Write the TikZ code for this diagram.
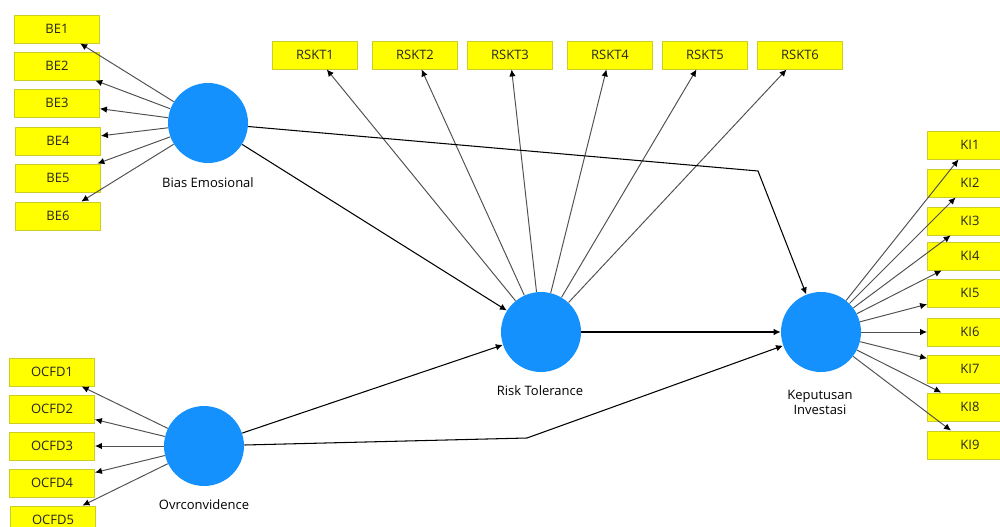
\documentclass[tikz,border=0pt]{standalone}
\usepackage{fontspec}
\setmainfont{Open Sans}
\usetikzlibrary{arrows.meta}
\definecolor{latblue}{RGB}{20,145,252}
\definecolor{indyellow}{RGB}{255,255,0}
\definecolor{indborder}{RGB}{205,205,40}
\definecolor{loadgray}{RGB}{80,80,80}

\begin{document}
\begin{tikzpicture}[x=0.02cm,y=-0.02cm]
\tikzstyle{every node}+=[font=\fontsize{7.4}{8.6}\selectfont]
\tikzstyle{ind}=[rectangle, fill=indyellow, draw=indborder, line width=0.5pt, minimum width=1.7cm, minimum height=0.56cm, inner sep=0pt, text=black!85]
\tikzstyle{lat}=[circle, fill=latblue, minimum size=1.6cm, inner sep=0pt]
\tikzstyle{loadline}=[draw=loadgray, line width=0.55pt, -{Latex[length=1.4mm,width=1.3mm,color=black]}]
\tikzstyle{structpath}=[draw=black, line width=0.6pt, -{Latex[length=1.4mm,width=1.3mm]}]
\useasboundingbox (0,0) rectangle (1000,527);
\clip (0,0) rectangle (1000,527);
% latent variables
\node [lat] (be) at (208,123) {};
\node [lat] (oc) at (204,446) {};
\node [lat] (rt) at (541,332) {};
\node [lat] (ki) at (821,332) {};
\node (belabel) at (208,183) {Bias Emosional};
\node (oclabel) at (204,505) {Ovrconvidence};
\node (rtlabel) at (540,391) {Risk Tolerance};
\node [align=center] (kilabel) at (820,402) {Keputusan\\Investasi};
% indicators Bias Emosional
\node [ind] (be1) at (57,29) {BE1};
\node [ind] (be2) at (57,66) {BE2};
\node [ind] (be3) at (57,103) {BE3};
\node [ind] (be4) at (58,141) {BE4};
\node [ind] (be5) at (58,178) {BE5};
\node [ind] (be6) at (58,216) {BE6};
% indicators Ovrconvidence
\node [ind] (oc1) at (52,372) {OCFD1};
\node [ind] (oc2) at (52,409) {OCFD2};
\node [ind] (oc3) at (52,446) {OCFD3};
\node [ind] (oc4) at (52,483) {OCFD4};
\node [ind] (oc5) at (53,520) {OCFD5};
% indicators Risk Tolerance
\node [ind] (rt1) at (315,55) {RSKT1};
\node [ind] (rt2) at (415,55) {RSKT2};
\node [ind] (rt3) at (510,55) {RSKT3};
\node [ind] (rt4) at (610,55) {RSKT4};
\node [ind] (rt5) at (705,55) {RSKT5};
\node [ind] (rt6) at (800,55) {RSKT6};
% indicators Keputusan Investasi
\node [ind] (ki1) at (970,145) {KI1};
\node [ind] (ki2) at (970,183) {KI2};
\node [ind] (ki3) at (970,221) {KI3};
\node [ind] (ki4) at (970,256) {KI4};
\node [ind] (ki5) at (970,293) {KI5};
\node [ind] (ki6) at (970,332) {KI6};
\node [ind] (ki7) at (970,369) {KI7};
\node [ind] (ki8) at (970,407) {KI8};
\node [ind] (ki9) at (970,445) {KI9};
% loadings
\draw [loadline] (be) -- (be1);
\draw [loadline] (be) -- (be2);
\draw [loadline] (be) -- (be3);
\draw [loadline] (be) -- (be4);
\draw [loadline] (be) -- (be5);
\draw [loadline] (be) -- (be6);
\draw [loadline] (oc) -- (oc1);
\draw [loadline] (oc) -- (oc2);
\draw [loadline] (oc) -- (oc3);
\draw [loadline] (oc) -- (oc4);
\draw [loadline] (oc) -- (oc5);
\draw [loadline] (rt) -- (rt1);
\draw [loadline] (rt) -- (rt2);
\draw [loadline] (rt) -- (rt3);
\draw [loadline] (rt) -- (rt4);
\draw [loadline] (rt) -- (rt5);
\draw [loadline] (rt) -- (rt6);
\draw [loadline] (ki) -- (ki1);
\draw [loadline] (ki) -- (ki2);
\draw [loadline] (ki) -- (ki3);
\draw [loadline] (ki) -- (ki4);
\draw [loadline] (ki) -- (ki5);
\draw [loadline] (ki) -- (ki6);
\draw [loadline] (ki) -- (ki7);
\draw [loadline] (ki) -- (ki8);
\draw [loadline] (ki) -- (ki9);
% structural paths
\coordinate (bendtop) at (758,171);
\coordinate (bendlow) at (527,438);
\draw [structpath] (be) -- (rt);
\draw [structpath] (oc) -- (rt);
\draw [structpath] (rt) -- (ki);
\draw [structpath] (be) -- (bendtop) -- (ki);
\draw [structpath] (oc) -- (bendlow) -- (ki);
\end{tikzpicture}
\end{document}
